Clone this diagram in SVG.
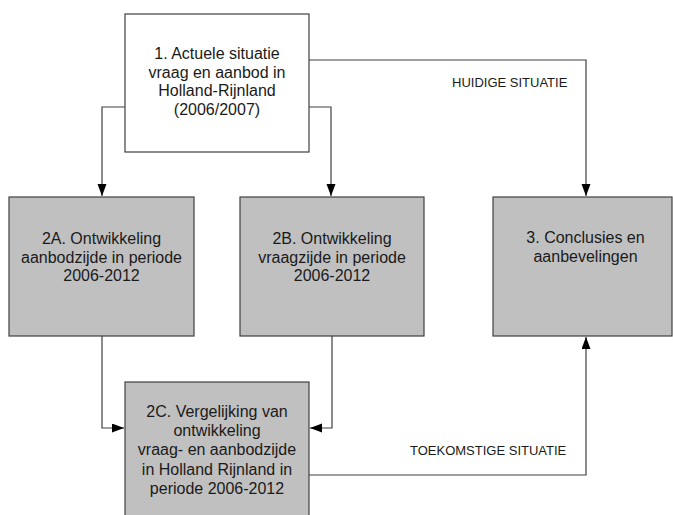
<svg xmlns="http://www.w3.org/2000/svg" width="673" height="515" viewBox="0 0 673 515">
<defs>
<style>
.box{stroke:#404040;stroke-width:1.2}
.white{fill:#ffffff}
.grey{fill:#c0c0c0}
.t{font-family:"Liberation Sans",Arial,sans-serif;font-size:16px;fill:#1a1a1a;text-anchor:middle}
.lab{font-family:"Liberation Sans",Arial,sans-serif;font-size:13px;fill:#1a1a1a}
.c{fill:none;stroke:#404040;stroke-width:1.2}
</style>
<marker id="ah" markerUnits="userSpaceOnUse" markerWidth="14" markerHeight="10" refX="12" refY="4.5" orient="auto">
<path d="M0,0 L12,4.5 L0,9 Z" fill="#000000"/>
</marker>
</defs>
<rect width="673" height="515" fill="#ffffff"/>
<g id="connectors">
<path class="c" d="M125,107 H102 V196" marker-end="url(#ah)"/>
<path class="c" d="M309,107 H331 V196" marker-end="url(#ah)"/>
<path class="c" d="M309,60 H586 V196" marker-end="url(#ah)"/>
<path class="c" d="M102,336 V428 H124" marker-end="url(#ah)"/>
<path class="c" d="M332,336 V428 H310" marker-end="url(#ah)"/>
<path class="c" d="M309,475 H586 V337" marker-end="url(#ah)"/>
<text class="lab" x="452" y="87">HUIDIGE SITUATIE</text>
<text class="lab" x="410" y="455">TOEKOMSTIGE SITUATIE</text>
</g>
<g id="node1">
<rect class="box white" x="125" y="14" width="184" height="138"/>
<text class="t" x="217" y="59">1. Actuele situatie</text>
<text class="t" x="217" y="77.5">vraag en aanbod in</text>
<text class="t" x="217" y="96">Holland-Rijnland</text>
<text class="t" x="217" y="114.5">(2006/2007)</text>
</g>
<g id="node2A">
<rect class="box grey" x="9" y="197" width="185" height="139"/>
<text class="t" x="101.5" y="244">2A. Ontwikkeling</text>
<text class="t" x="101.5" y="262.5">aanbodzijde in periode</text>
<text class="t" x="101.5" y="281">2006-2012</text>
</g>
<g id="node2B">
<rect class="box grey" x="240" y="197" width="184" height="139"/>
<text class="t" x="332" y="244">2B. Ontwikkeling</text>
<text class="t" x="332" y="262.5">vraagzijde in periode</text>
<text class="t" x="332" y="281">2006-2012</text>
</g>
<g id="node3">
<rect class="box grey" x="493" y="197" width="179" height="139"/>
<text class="t" x="585.5" y="243">3. Conclusies en</text>
<text class="t" x="585.5" y="261.5">aanbevelingen</text>
</g>
<g id="node2C">
<rect class="box grey" x="125" y="382" width="184" height="145"/>
<text class="t" x="217" y="417">2C. Vergelijking van</text>
<text class="t" x="217" y="436">ontwikkeling</text>
<text class="t" x="217" y="455">vraag- en aanbodzijde</text>
<text class="t" x="217" y="474.5">in Holland Rijnland in</text>
<text class="t" x="217" y="493.5">periode 2006-2012</text>
</g>
</svg>
